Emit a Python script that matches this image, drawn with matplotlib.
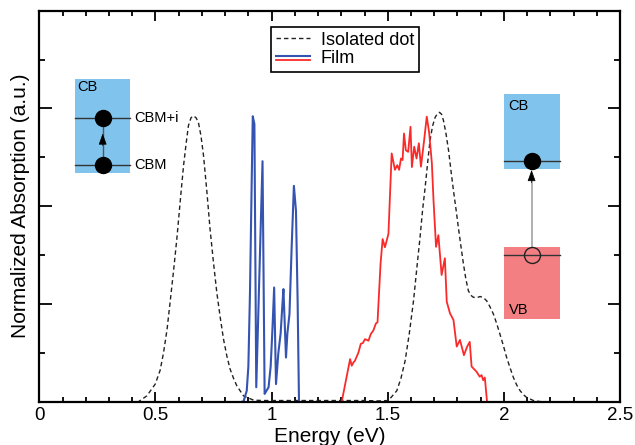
import matplotlib
matplotlib.use("Agg")
import matplotlib.pyplot as plt
from matplotlib.lines import Line2D
from matplotlib.patches import Rectangle
from matplotlib.legend_handler import HandlerBase
from matplotlib.ticker import MultipleLocator, NullFormatter

plt.rcParams['font.family'] = ['Liberation Sans', 'DejaVu Sans']

# isolated dot spectrum (dashed)
dot_energy = [0.42, 0.427, 0.463, 0.499, 0.52, 0.535, 0.55, 0.563, 0.578, 0.592, 0.607,
              0.621, 0.632, 0.642, 0.653, 0.664, 0.675, 0.685, 0.696, 0.707, 0.721,
              0.735, 0.75, 0.764, 0.779, 0.793, 0.807, 0.821, 0.836, 0.85, 0.879,
              0.922, 0.96, 1.0, 1.1, 1.2, 1.3, 1.4, 1.46, 1.503, 1.539, 1.557, 1.575,
              1.593, 1.611, 1.625, 1.639, 1.65, 1.661, 1.672, 1.682, 1.693, 1.704,
              1.714, 1.723, 1.732, 1.74, 1.751, 1.762, 1.772, 1.783, 1.794, 1.804,
              1.815, 1.826, 1.836, 1.847, 1.858, 1.869, 1.883, 1.898, 1.912, 1.926,
              1.94, 1.955, 1.969, 1.983, 1.998, 2.012, 2.027, 2.041, 2.055, 2.07,
              2.084, 2.098, 2.127, 2.16, 2.2]
dot_absorption = [0.0, 0.0, 0.015, 0.045, 0.08, 0.126, 0.185, 0.254, 0.335, 0.416, 0.515,
                  0.604, 0.66, 0.706, 0.726, 0.731, 0.726, 0.714, 0.68, 0.629, 0.54,
                  0.442, 0.355, 0.28, 0.215, 0.16, 0.118, 0.084, 0.06, 0.041, 0.015,
                  0.004, 0.003, 0.003, 0.003, 0.003, 0.003, 0.003, 0.002, 0.003, 0.028,
                  0.06, 0.105, 0.175, 0.258, 0.34, 0.42, 0.49, 0.548, 0.612, 0.668,
                  0.705, 0.727, 0.737, 0.74, 0.735, 0.719, 0.685, 0.642, 0.592, 0.54,
                  0.492, 0.446, 0.398, 0.352, 0.315, 0.284, 0.272, 0.267, 0.266, 0.269,
                  0.266, 0.258, 0.243, 0.224, 0.2, 0.173, 0.143, 0.113, 0.086, 0.062,
                  0.043, 0.028, 0.018, 0.011, 0.003, 0.0, 0.0]

# film, intraband part (blue)
film_cb_energy = [0.875, 0.879, 0.893, 0.9, 0.907, 0.914, 0.919, 0.926, 0.934, 0.961,
                  0.97, 0.976, 0.987, 0.996, 1.004, 1.011, 1.019, 1.029, 1.039, 1.046,
                  1.051, 1.062, 1.068, 1.077, 1.086, 1.096, 1.105, 1.112, 1.118]
film_cb_absorption = [0.0, 0.0, 0.028, 0.09, 0.28, 0.55, 0.73, 0.71, 0.037, 0.615,
                      0.02, 0.026, 0.037, 0.09, 0.19, 0.292, 0.045, 0.124, 0.175, 0.243,
                      0.288, 0.113, 0.175, 0.224, 0.388, 0.552, 0.488, 0.26, 0.0]

# film, interband part (red)
film_vb_energy = [1.302, 1.338, 1.345, 1.352, 1.359, 1.374, 1.384, 1.393, 1.402, 1.41,
                  1.417, 1.427, 1.438, 1.449, 1.456, 1.469, 1.478, 1.488, 1.503, 1.517,
                  1.531, 1.541, 1.549, 1.557, 1.564, 1.57, 1.578, 1.588, 1.598, 1.604,
                  1.614, 1.624, 1.634, 1.643, 1.656, 1.668, 1.678, 1.69, 1.697, 1.708,
                  1.718, 1.732, 1.746, 1.754, 1.768, 1.783, 1.797, 1.811, 1.828, 1.842,
                  1.853, 1.861, 1.882, 1.896, 1.904, 1.911, 1.918, 1.929]
film_vb_absorption = [0.0, 0.109, 0.092, 0.1, 0.105, 0.126, 0.148, 0.15, 0.16, 0.158,
                      0.156, 0.173, 0.182, 0.2, 0.203, 0.352, 0.416, 0.395, 0.429, 0.635,
                      0.593, 0.605, 0.593, 0.622, 0.618, 0.686, 0.643, 0.639, 0.703, 0.6,
                      0.652, 0.622, 0.661, 0.601, 0.665, 0.729, 0.69, 0.61, 0.516, 0.396,
                      0.426, 0.324, 0.367, 0.256, 0.226, 0.209, 0.141, 0.158, 0.119, 0.141,
                      0.153, 0.09, 0.077, 0.064, 0.068, 0.055, 0.062, -0.01]

CB_BLUE = "#80c4ed"
VB_RED = "#f37f83"
LINE_BLUE = "#3553b0"
LINE_RED = "#fa2a2a"


class TwoLineHandler(HandlerBase):
    # legend key with the blue line drawn over the red one
    def create_artists(self, legend, orig_handle, xdescent, ydescent,
                       width, height, fontsize, trans):
        arts = []
        for h, frac in zip(orig_handle, (0.62, 0.30)):
            y = frac * height - ydescent
            arts.append(Line2D([-xdescent, width - xdescent], [y, y],
                               color=h.get_color(), lw=h.get_linewidth(),
                               transform=trans))
        return arts


fig = plt.figure(figsize=(6.35, 4.45), dpi=100)
ax = fig.add_axes([0.0619, 0.0973, 0.9145, 0.8787])

dot_line, = ax.plot(dot_energy, dot_absorption, color="#222222", lw=1.0,
                    ls=(0, (3.2, 2.2)))
blue_line, = ax.plot(film_cb_energy, film_cb_absorption, color=LINE_BLUE, lw=1.5)
red_line, = ax.plot(film_vb_energy, film_vb_absorption, color=LINE_RED, lw=1.3)

ax.set_xlim(0, 2.5)
ax.set_ylim(0, 1)
ax.xaxis.set_major_locator(MultipleLocator(0.5))
ax.xaxis.set_minor_locator(MultipleLocator(0.1))
ax.yaxis.set_major_locator(MultipleLocator(0.25))
ax.yaxis.set_minor_locator(MultipleLocator(0.125))
ax.yaxis.set_major_formatter(NullFormatter())
ax.set_xticks([0, 0.5, 1, 1.5, 2, 2.5])
ax.set_xticklabels(["0", "0.5", "1", "1.5", "2", "2.5"])
ax.tick_params(which="both", direction="in", top=True, right=True, width=1.3,
               labelsize=13.5, pad=4)
ax.tick_params(axis="x", which="major", length=7)
ax.tick_params(axis="x", which="minor", length=3.3)
ax.tick_params(axis="y", which="major", length=9)
ax.tick_params(axis="y", which="minor", length=4.2)
for sp in ax.spines.values():
    sp.set_linewidth(1.6)

ax.set_xlabel("Energy (eV)", fontsize=15, labelpad=2)
ax.set_ylabel("Normalized Absorption (a.u.)", fontsize=15, labelpad=3)

leg = ax.legend([dot_line, (blue_line, red_line)], ["Isolated dot", "Film"],
                handler_map={tuple: TwoLineHandler()},
                loc="upper left", bbox_to_anchor=(0.399, 0.958), borderaxespad=0,
                fontsize=13, fancybox=False, framealpha=1, edgecolor="black",
                handlelength=1.9, handletextpad=0.6, labelspacing=0.1,
                borderpad=0.25)
leg.get_frame().set_linewidth(1.2)

# left inset: intraband transition CBM -> CBM+i
ax.add_patch(Rectangle((0.1537, 0.585), 0.238, 0.240, facecolor=CB_BLUE,
                       edgecolor="none", zorder=3))
for yl in (0.7263, 0.6054):
    ax.plot([0.1537, 0.3917], [yl, yl], color="#333333", lw=1.0, zorder=4)
ax.plot([0.2729, 0.2729], [0.6054, 0.7263], color="#555555", lw=1.0, zorder=4)
ax.annotate("", xy=(0.2729, 0.686), xytext=(0.2729, 0.655),
            arrowprops=dict(arrowstyle="-|>,head_length=0.7,head_width=0.25",
                            color="black", lw=0.5, shrinkA=0, shrinkB=0), zorder=6)
ax.plot([0.2729, 0.2729], [0.7263, 0.6054], ls="none", marker="o", ms=11.5,
        mfc="black", mec="black", zorder=5)
ax.text(0.162, 0.822, "CB", fontsize=10.5, ha="left", va="top", zorder=6)
ax.text(0.408, 0.7263, "CBM+i", fontsize=10.5, ha="left", va="center")
ax.text(0.408, 0.6054, "CBM", fontsize=10.5, ha="left", va="center")

# right inset: interband transition VB -> CB
ax.add_patch(Rectangle((2.0004, 0.595), 0.2398, 0.191, facecolor=CB_BLUE,
                       edgecolor="none", zorder=3))
ax.add_patch(Rectangle((2.0004, 0.212), 0.2398, 0.183, facecolor=VB_RED,
                       edgecolor="none", zorder=3))
ax.plot([2.0004, 2.2402], [0.615, 0.615], color="#333333", lw=1.0, zorder=4)
ax.plot([2.0004, 2.2402], [0.3744, 0.3744], color="#333333", lw=1.0, zorder=4)
ax.plot([2.1193, 2.1193], [0.395, 0.575], color="#aaaaaa", lw=1.3, zorder=4)
ax.annotate("", xy=(2.1193, 0.5926), xytext=(2.1193, 0.56),
            arrowprops=dict(arrowstyle="-|>,head_length=0.7,head_width=0.25",
                            color="black", lw=0.5, shrinkA=0, shrinkB=0), zorder=6)
ax.plot([2.1193], [0.615], ls="none", marker="o", ms=11.5, mfc="black",
        mec="black", zorder=5)
ax.plot([2.1193], [0.3744], ls="none", marker="o", ms=11.5, mfc="none",
        mec="#222222", mew=1.0, zorder=5)
ax.text(2.02, 0.775, "CB", fontsize=10.5, ha="left", va="top", zorder=6)
ax.text(2.02, 0.2345, "VB", fontsize=10.5, ha="left", va="center", zorder=6)

fig.savefig("out.png", dpi=100)
